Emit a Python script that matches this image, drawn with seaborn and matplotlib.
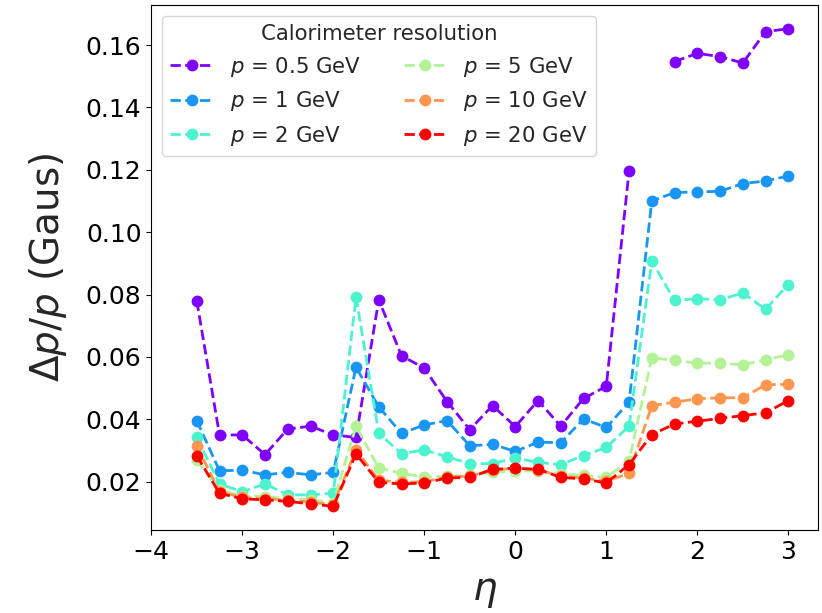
import numpy as np
import matplotlib
matplotlib.use("Agg")
import matplotlib.pyplot as plt
import seaborn as sns

eta = [-3.5, -3.25, -3.0, -2.75, -2.5, -2.25, -2.0, -1.75, -1.5, -1.25, -1.0, -0.75, -0.5, -0.25,
       0.0, 0.25, 0.5, 0.75, 1.0, 1.25, 1.5, 1.75, 2.0, 2.25, 2.5, 2.75, 3.0]

res_05 = [0.078, 0.035, 0.035, 0.0287, 0.0369, 0.0378, 0.035, 0.0342, 0.0783, 0.0604, 0.0564, 0.0457,
          0.0367, 0.0444, 0.0377, 0.046, 0.0378, 0.0467, 0.0506, 0.1196, np.nan, 0.1547, 0.1573,
          0.1563, 0.1542, 0.1643, 0.1652]
res_1 = [0.0396, 0.0235, 0.0237, 0.0222, 0.023, 0.0222, 0.023, 0.0567, 0.044, 0.0355, 0.0382, 0.0396,
         0.0315, 0.032, 0.0297, 0.0327, 0.0325, 0.0401, 0.0374, 0.0455, 0.110, 0.1127, 0.1129, 0.1131,
         0.1156, 0.1164, 0.118]
res_2 = [0.0342, 0.0193, 0.0168, 0.0193, 0.0158, 0.0158, 0.0163, 0.0792, 0.0355, 0.029, 0.0302, 0.028,
         0.0258, 0.0258, 0.0276, 0.0262, 0.0255, 0.0284, 0.031, 0.0378, 0.0907, 0.0781, 0.0787, 0.0783,
         0.0805, 0.0753, 0.0832]
res_5 = [0.027, 0.0172, 0.0155, 0.0152, 0.0146, 0.0142, 0.0133, 0.0378, 0.0244, 0.0227, 0.0215, 0.0218,
         0.022, 0.023, 0.0234, 0.0235, 0.0225, 0.022, 0.0214, 0.0267, 0.0597, 0.0589, 0.058, 0.058,
         0.0575, 0.0591, 0.0607]
res_10 = [0.0315, 0.0168, 0.015, 0.0146, 0.0141, 0.0135, 0.0126, 0.0302, 0.0205, 0.0198, 0.02, 0.0215,
          0.0218, 0.0237, 0.0243, 0.0238, 0.0218, 0.0212, 0.0202, 0.0227, 0.0444, 0.0455, 0.0466, 0.0469,
          0.0469, 0.0511, 0.0512]
res_20 = [0.0283, 0.0163, 0.0145, 0.0142, 0.0137, 0.0129, 0.0121, 0.0289, 0.0198, 0.0193, 0.0196, 0.0212,
          0.0214, 0.024, 0.0243, 0.024, 0.0214, 0.0209, 0.0196, 0.0255, 0.0351, 0.0385, 0.0394, 0.0403,
          0.0412, 0.0421, 0.046]

momenta = ["0.5", "1", "2", "5", "10", "20"]
series = [res_05, res_1, res_2, res_5, res_10, res_20]

sns.set_style("ticks")
plt.rcParams['font.family'] = ['DejaVu Sans']
plt.rcParams['mathtext.fontset'] = 'dejavusans'

fig, ax = plt.subplots(figsize=(8.22, 6.13), dpi=100)
fig.subplots_adjust(left=0.184, right=0.995, top=0.992, bottom=0.135)

colors = plt.cm.rainbow(np.linspace(0, 1, len(series)))
x_all = np.array(eta)
for p, vals, c in zip(momenta, series, colors):
    y_all = np.array(vals, dtype=float)
    ok = ~np.isnan(y_all)
    # split into contiguous runs so gaps are not bridged
    breaks = np.where(np.diff(ok.astype(int)) != 0)[0] + 1
    first = True
    for idx in np.split(np.arange(len(y_all)), breaks):
        if not ok[idx[0]]:
            continue
        sns.lineplot(x=x_all[idx], y=y_all[idx], ax=ax, color=c, marker='o', markersize=8.5,
                     markeredgewidth=0, linestyle='--', linewidth=2,
                     label=f"$p$ = {p} GeV" if first else None)
        first = False

ax.set_xlim(-4, 3.325)
ax.set_xticks([-4, -3, -2, -1, 0, 1, 2, 3])
ax.tick_params(labelsize=18, color='black', labelcolor='black')
for s in ax.spines.values():
    s.set_color('black')
ax.set_xlabel(r"$\eta$", fontsize=28, labelpad=6)
ax.set_ylabel(r"$\Delta p/p$ (Gaus)", fontsize=28, labelpad=12)

leg = ax.legend(ncol=2, loc='upper left', fontsize=15.3, title="Calorimeter resolution",
                title_fontsize=15.3, frameon=True)

fig.savefig("out.png", dpi=100)
